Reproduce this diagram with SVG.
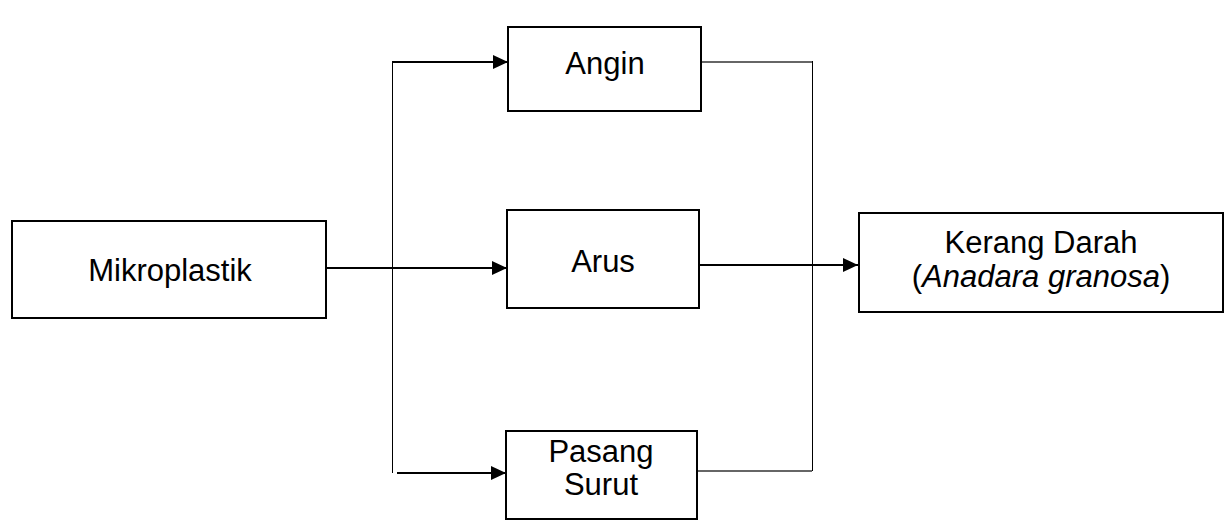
<svg xmlns="http://www.w3.org/2000/svg" width="1226" height="520" viewBox="0 0 1226 520">
  <style>
    .box { fill: #ffffff; stroke: #000000; stroke-width: 2; }
    .label { font-family: "Liberation Sans", Arial, sans-serif; font-size: 31px; fill: #000000; text-anchor: middle; }
    .flow { fill: none; stroke: #000000; stroke-width: 2; }
    .thin { fill: none; stroke: #000000; stroke-width: 1; }
    .join { fill: none; stroke: #333333; stroke-width: 1.3; }
  </style>
  <defs>
    <marker id="arrow" markerUnits="userSpaceOnUse" markerWidth="16" markerHeight="14" refX="15" refY="7" orient="auto">
      <path d="M0,0 L15,7 L0,14 Z" fill="#000000"/>
    </marker>
  </defs>

  <rect width="1226" height="520" fill="#ffffff"/>

  <!-- connectors -->
  <g id="connectors">
    <!-- distribution bus from the source -->
    <line class="thin" x1="392.5" y1="62" x2="392.5" y2="473"/>
    <path class="flow" d="M326,268 L507,268" marker-end="url(#arrow)"/>
    <path class="flow" d="M392,62 L508,62" marker-end="url(#arrow)"/>
    <path class="flow" d="M397,473 L506,473" marker-end="url(#arrow)"/>
    <!-- collector bus into the target -->
    <line class="join" x1="701" y1="62" x2="813" y2="62"/>
    <line class="join" x1="697" y1="471" x2="812" y2="471"/>
    <line class="thin" x1="812.5" y1="61" x2="812.5" y2="471"/>
    <path class="flow" d="M699,265 L858,265" marker-end="url(#arrow)"/>
  </g>

  <g id="mikroplastik">
    <rect class="box" x="12" y="221" width="314" height="97"/>
    <text class="label" x="170" y="281">Mikroplastik</text>
  </g>

  <g id="angin">
    <rect class="box" x="508" y="27" width="193" height="84"/>
    <text class="label" x="605" y="74">Angin</text>
  </g>

  <g id="arus">
    <rect class="box" x="507" y="210" width="192" height="98"/>
    <text class="label" x="603" y="272">Arus</text>
  </g>

  <g id="pasang-surut">
    <rect class="box" x="506" y="431" width="191" height="88"/>
    <text class="label" x="601" y="462">Pasang</text>
    <text class="label" x="601" y="495">Surut</text>
  </g>

  <g id="kerang-darah">
    <rect class="box" x="859" y="213" width="364" height="99"/>
    <text class="label" x="1041" y="253">Kerang Darah</text>
    <text class="label" x="1041" y="287">(<tspan font-style="italic">Anadara granosa</tspan>)</text>
  </g>
</svg>
